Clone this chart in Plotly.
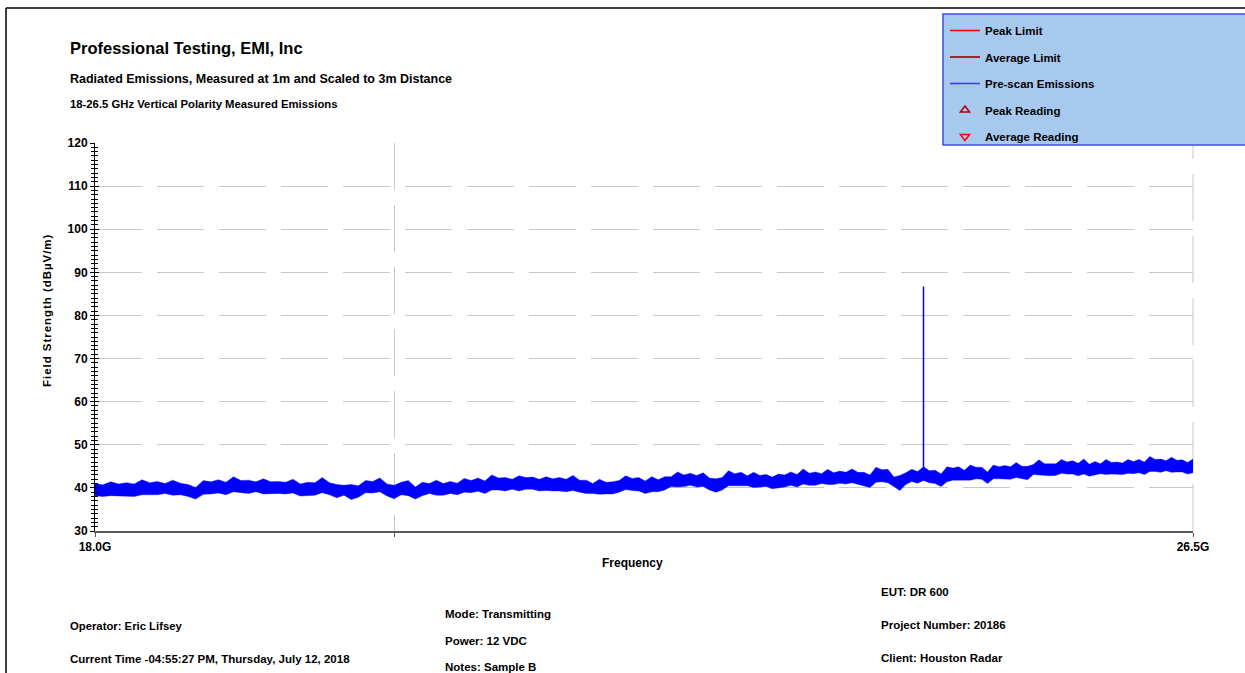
import math
import plotly.graph_objects as go

# ---- sweep data: 18-26.5 GHz, vertical polarity pre-scan ----
freq_ghz = [
    18.00, 18.05, 18.10, 18.15, 18.20, 18.25, 18.30, 18.35, 18.40, 18.45,
    18.50, 18.55, 18.60, 18.65, 18.70, 18.75, 18.80, 18.85, 18.90, 18.95,
    19.00, 19.05, 19.10, 19.15, 19.20, 19.25, 19.30, 19.35, 19.40, 19.45,
    19.50, 19.55, 19.60, 19.65, 19.70, 19.75, 19.80, 19.85, 19.90, 19.95,
    20.00, 20.05, 20.10, 20.15, 20.20, 20.25, 20.30, 20.35, 20.40, 20.45,
    20.50, 20.55, 20.60, 20.65, 20.70, 20.75, 20.80, 20.85, 20.90, 20.95,
    21.00, 21.05, 21.10, 21.15, 21.20, 21.25, 21.30, 21.35, 21.40, 21.45,
    21.50, 21.55, 21.60, 21.65, 21.70, 21.75, 21.80, 21.85, 21.90, 21.95,
    22.00, 22.05, 22.10, 22.15, 22.20, 22.25, 22.30, 22.35, 22.40, 22.45,
    22.50, 22.55, 22.60, 22.65, 22.70, 22.75, 22.80, 22.85, 22.90, 22.95,
    23.00, 23.05, 23.10, 23.15, 23.20, 23.25, 23.30, 23.35, 23.40, 23.45,
    23.50, 23.55, 23.60, 23.65, 23.70, 23.75, 23.80, 23.85, 23.90, 23.95,
    24.00, 24.05, 24.10, 24.15, 24.20, 24.25, 24.30, 24.35, 24.40, 24.45,
    24.50, 24.55, 24.60, 24.65, 24.70, 24.75, 24.80, 24.85, 24.90, 24.95,
    25.00, 25.05, 25.10, 25.15, 25.20, 25.25, 25.30, 25.35, 25.40, 25.45,
    25.50, 25.55, 25.60, 25.65, 25.70, 25.75, 25.80, 25.85, 25.90, 25.95,
    26.00, 26.05, 26.10, 26.15, 26.20, 26.25, 26.30, 26.35, 26.40, 26.45,
    26.50,
]

# upper edge of the emission trace (dBuV/m)
band_upper = [
    41.0, 40.7, 41.4, 40.9, 41.2, 40.9, 41.9, 41.2, 41.5, 41.0,
    41.8, 41.1, 40.8, 40.1, 41.7, 41.4, 41.9, 41.3, 42.6, 41.7,
    41.8, 41.4, 42.1, 41.4, 41.5, 41.3, 42.0, 40.9, 41.3, 41.2,
    42.4, 41.2, 40.8, 40.6, 40.8, 40.5, 41.7, 41.5, 42.3, 40.9,
    40.6, 41.3, 41.7, 40.2, 41.3, 41.0, 41.8, 41.0, 41.5, 41.1,
    42.2, 41.7, 42.3, 41.6, 43.0, 42.3, 42.4, 42.0, 42.8, 42.4,
    42.5, 42.0, 42.6, 42.1, 42.4, 42.0, 42.9, 41.8, 41.8, 41.0,
    42.0, 41.3, 41.4, 41.7, 42.8, 42.2, 42.4, 41.6, 42.6, 41.9,
    42.6, 42.6, 43.7, 43.0, 43.4, 42.9, 43.5, 42.3, 42.1, 42.4,
    44.0, 43.3, 43.6, 42.8, 43.6, 42.9, 43.1, 42.5, 43.2, 43.0,
    43.7, 43.1, 44.4, 43.4, 43.7, 43.3, 44.3, 43.5, 43.9, 43.6,
    44.4, 43.6, 43.6, 43.0, 44.8, 44.2, 44.3, 42.5, 42.9, 43.5,
    44.3, 43.8, 44.9, 44.0, 44.1, 43.2, 44.9, 44.6, 44.9, 44.1,
    45.3, 44.8, 44.8, 43.7, 45.3, 44.9, 45.2, 44.9, 45.9, 45.0,
    45.0, 45.4, 46.5, 45.6, 45.6, 45.6, 46.6, 46.0, 46.3, 45.7,
    46.7, 45.5, 46.1, 45.6, 46.6, 45.9, 46.0, 45.8, 46.6, 46.1,
    46.6, 46.0, 47.3, 46.6, 46.7, 46.3, 47.1, 46.4, 46.5, 45.9,
    46.7,
]

# lower edge of the emission trace (dBuV/m)
band_lower = [
    38.2, 38.0, 38.2, 38.1, 38.1, 38.0, 38.4, 38.4, 38.4, 38.7,
    38.3, 38.4, 38.0, 37.4, 38.5, 38.6, 38.8, 38.4, 39.1, 38.9,
    38.7, 39.1, 38.6, 38.7, 38.7, 38.6, 38.8, 38.1, 38.2, 38.3,
    38.9, 38.4, 37.7, 38.3, 37.3, 37.8, 38.9, 38.8, 39.1, 38.1,
    37.5, 38.4, 38.2, 37.4, 38.2, 38.7, 38.3, 38.3, 38.7, 38.4,
    39.0, 38.9, 39.2, 38.7, 39.5, 39.5, 39.3, 39.7, 39.3, 39.7,
    39.7, 39.3, 39.4, 39.3, 39.3, 39.1, 39.4, 39.0, 38.7, 38.7,
    38.5, 38.6, 38.6, 39.0, 39.6, 39.4, 39.3, 38.7, 39.1, 39.1,
    39.5, 40.3, 40.2, 40.3, 40.6, 40.2, 40.3, 39.5, 39.0, 39.5,
    40.5, 40.5, 40.5, 40.5, 40.1, 40.2, 40.3, 39.8, 40.0, 40.2,
    40.6, 40.2, 40.9, 40.6, 40.6, 41.0, 40.8, 40.8, 41.1, 40.9,
    41.2, 40.8, 40.5, 40.1, 41.3, 41.4, 41.2, 40.2, 39.4, 40.8,
    41.5, 41.1, 41.7, 41.2, 41.0, 40.3, 41.4, 41.8, 41.8, 41.8,
    41.8, 42.1, 42.0, 41.0, 42.1, 42.1, 42.1, 42.0, 42.4, 42.2,
    41.9, 43.1, 43.0, 42.9, 42.8, 42.9, 43.4, 43.2, 43.2, 42.8,
    43.2, 42.7, 43.0, 43.3, 43.1, 43.2, 43.2, 43.1, 43.4, 43.3,
    43.5, 43.1, 43.8, 43.8, 43.6, 44.0, 43.6, 43.7, 43.7, 43.2,
    43.5,
]

# narrow carrier emission
spike_freq_ghz = [24.10, 24.10]
spike_level = [42.9, 86.7]

# axes
x_tick_vals = [18.0, 20.0, 26.5]
x_tick_text = ["18.0G", "", "26.5G"]
y_range = [30, 120]

# ---- page geometry (pixels) ----
W, H = 1245, 673
PL, PR, PT, PB = 95, 1193, 143, 531


def px(xp):
    return (xp - PL) / (PR - PL)


def py(yp):
    return (PB - yp) / (PB - PT)


FONT = "Liberation Sans, Arial, sans-serif"
BLUE = "#0000ff"
GRID = "#c8c8c8"
DASH = "47px,15px"

fig = go.Figure()

# emission trace as a filled band between its lower and upper edges
fig.add_trace(go.Scatter(
    x=freq_ghz + freq_ghz[::-1],
    y=band_upper + band_lower[::-1],
    mode="lines", fill="toself", fillcolor=BLUE,
    line=dict(color=BLUE, width=0.4),
    showlegend=False, hoverinfo="skip",
))
fig.add_trace(go.Scatter(
    x=spike_freq_ghz, y=spike_level, mode="lines",
    line=dict(color=BLUE, width=1.5), showlegend=False, hoverinfo="skip",
))

# legend entries
legend_items = [
    ("Peak Limit", dict(mode="lines", line=dict(color="#ff0000", width=1.6))),
    ("Average Limit", dict(mode="lines", line=dict(color="#8b0000", width=1.6))),
    ("Pre-scan Emissions", dict(mode="lines", line=dict(color="#3a3aff", width=1.6))),
    ("Peak Reading", dict(mode="markers", marker=dict(symbol="triangle-up-open", size=8,
                                                      color="#b00000", line=dict(width=1.5)))),
    ("Average Reading", dict(mode="markers", marker=dict(symbol="triangle-down-open", size=8,
                                                         color="#ff0000", line=dict(width=1.5)))),
]
for i, (name, style) in enumerate(legend_items):
    fig.add_trace(go.Scatter(x=[None], y=[None], name=name, legendgroup=f"g{i}",
                             yaxis="y2", **style))

grid = dict(showgrid=True, gridcolor=GRID, gridwidth=1, griddash=DASH)
tickfont = dict(family=FONT, size=12, color="black", weight="bold")

fig.update_layout(
    width=W, height=H,
    margin=dict(l=PL, r=W - PR, t=PT, b=H - PB, autoexpand=False),
    paper_bgcolor="white", plot_bgcolor="white",
    xaxis=dict(type="log", range=[math.log10(18.0), math.log10(26.5)],
               tickmode="array", tickvals=x_tick_vals, ticktext=x_tick_text,
               showline=True, linecolor="#5a5a5a", linewidth=2,
               ticks="outside", ticklen=4, tickcolor="#5a5a5a",
               tickfont=tickfont, zeroline=False, **grid),
    yaxis=dict(range=y_range, tick0=30, dtick=10,
               showline=True, linecolor="black", linewidth=1,
               ticks="outside", ticklen=4, tickcolor="black",
               minor=dict(dtick=1, ticks="outside", ticklen=3, tickcolor="black", showgrid=False),
               tickfont=tickfont, zeroline=False, **grid),
    yaxis2=dict(overlaying="y", side="left", anchor="x", range=y_range, tick0=30, dtick=10,
                ticks="inside", ticklen=4, tickcolor="black",
                minor=dict(dtick=1, ticks="inside", ticklen=3, tickcolor="black", showgrid=False),
                showticklabels=False, showgrid=False, showline=False, zeroline=False),
    legend=dict(x=px(945), y=py(16), xanchor="left", yanchor="top",
                bgcolor="rgba(0,0,0,0)", borderwidth=0, tracegroupgap=7.5,
                traceorder="grouped",
                font=dict(family=FONT, size=11.5, color="black", weight="bold")),
    showlegend=True,
)

# dashed grid line along the right edge of the plot
fig.add_shape(type="line", xref="paper", yref="paper", x0=1, x1=1, y0=0, y1=1,
              line=dict(color=GRID, width=1, dash=DASH), layer="below")

# legend panel, page frame
fig.add_shape(type="rect", xref="paper", yref="paper",
              x0=px(943), x1=px(1252), y0=py(145), y1=py(14),
              fillcolor="#a8c9ee", line=dict(color="#3b4fe0", width=1.5), layer="above")
fig.add_shape(type="line", xref="paper", yref="paper",
              x0=px(6), x1=px(1250), y0=py(8), y1=py(8),
              line=dict(color="black", width=1.5))
fig.add_shape(type="line", xref="paper", yref="paper",
              x0=px(6), x1=px(6), y0=py(8), y1=py(680),
              line=dict(color="black", width=1.5))


def label(text, x, y, size, xanchor="left", angle=0):
    fig.add_annotation(text=text, x=px(x), y=py(y), xref="paper", yref="paper",
                       xanchor=xanchor, yanchor="middle", showarrow=False,
                       textangle=angle,
                       font=dict(family=FONT, size=size, color="black", weight="bold"))


HS = "\u200a"
y_title = HS.join("Field Strength (dBµV/m)")

label("Professional Testing, EMI, Inc", 68, 48, 16.5)
label("Radiated Emissions, Measured at 1m and Scaled to 3m Distance", 68, 79, 12.5)
label("18-26.5 GHz Vertical Polarity Measured Emissions", 68, 104, 11.3)
label(y_title, 47, 311, 11.5, xanchor="center", angle=-90)
label("Frequency", 632, 563, 12, xanchor="center")

label("Operator: Eric Lifsey", 68, 626, 11.3)
label("Current Time -04:55:27 PM, Thursday, July 12, 2018", 68, 659, 11.5)
label("Mode: Transmitting", 443, 614, 11.5)
label("Power: 12 VDC", 443, 641, 11.5)
label("Notes: Sample B", 443, 667, 11.5)
label("EUT: DR 600", 879, 592, 11.5)
label("Project Number: 20186", 879, 625, 11.5)
label("Client: Houston Radar", 879, 658, 11.5)

fig.write_html("out.html")
